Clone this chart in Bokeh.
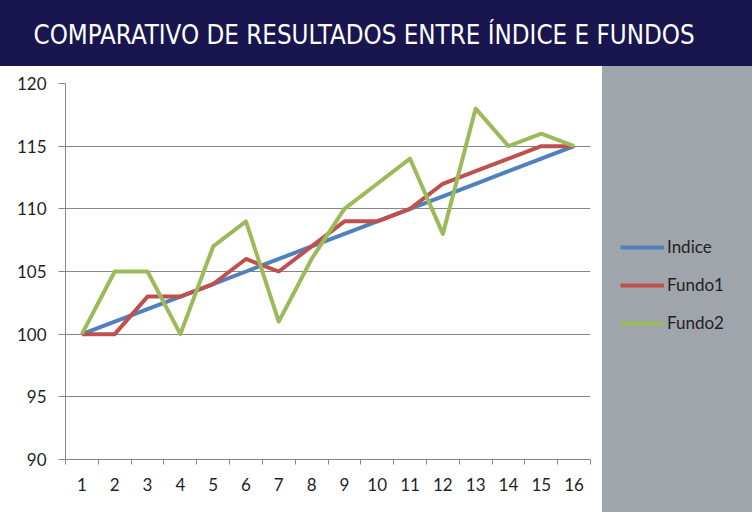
from bokeh.plotting import figure
from bokeh.models import Range1d, FixedTicker, Label, Legend, LegendItem
from bokeh.layouts import column, row
from bokeh.embed import file_html
from bokeh.resources import INLINE

# ---- data ----
periods = list(range(1, 17))
indice = [100, 101, 102, 103, 104, 105, 106, 107, 108, 109, 110, 111, 112, 113, 114, 115]
fundo1 = [100, 100, 103, 103, 104, 106, 105, 107, 109, 109, 110, 112, 113, 114, 115, 115]
fundo2 = [100, 105, 105, 100, 107, 109, 101, 106, 110, 112, 114, 108, 118, 115, 116, 115]
series_names = ["Indice", "Fundo1", "Fundo2"]
y_ticks = [90, 95, 100, 105, 110, 115, 120]
title_text = "COMPARATIVO DE RESULTADOS ENTRE ÍNDICE E FUNDOS"

colors = ["#4F81BD", "#C0504D", "#9BBB59"]
NAVY = "#19154f"
PANEL = "#a0a4ab"
GRID = "#868686"
TEXT = "#1f1f1f"
FONT = "Lato"

# ---- title bar ----
t = figure(width=752, height=66, output_backend="svg", toolbar_location=None,
           x_axis_location=None, y_axis_location=None,
           x_range=Range1d(0, 1), y_range=Range1d(0, 1),
           min_border=0, background_fill_color=NAVY, border_fill_color=NAVY,
           outline_line_color=None)
t.styles = {"background-color": NAVY}
t.grid.visible = False
t.add_layout(Label(x=33, y=32, x_units="screen", y_units="screen", text=title_text,
                   text_color="white",
                   text_font="'DejaVu Sans Condensed', 'Liberation Sans Narrow', Roboto",
                   text_font_size="25.7px", text_baseline="middle", text_align="left"))

# ---- main chart ----
c = figure(width=602, height=446, output_backend="svg", toolbar_location=None,
           x_range=Range1d(0.5, 16.5), y_range=Range1d(90, 120),
           min_border_left=65, min_border_right=12, min_border_top=17, min_border_bottom=53,
           background_fill_color="white", border_fill_color="white",
           outline_line_color=None)
c.xgrid.visible = False
c.ygrid.grid_line_color = GRID
c.ygrid.grid_line_width = 1
c.ygrid.ticker = FixedTicker(ticks=y_ticks)

c.xaxis.ticker = FixedTicker(ticks=periods, minor_ticks=[v - 0.5 for v in periods] + [periods[-1] + 0.5])
c.xaxis.major_tick_out = 0
c.xaxis.major_tick_in = 0
c.xaxis.minor_tick_out = 5
c.xaxis.minor_tick_in = 0
c.xaxis.minor_tick_line_color = GRID
c.xaxis.major_label_standoff = 13

c.yaxis.ticker = FixedTicker(ticks=y_ticks)
c.yaxis.major_tick_out = 7
c.yaxis.major_tick_in = 0
c.yaxis.minor_tick_line_color = None
c.yaxis.major_label_standoff = 12

for ax in (c.xaxis, c.yaxis):
    ax.axis_line_color = GRID
    ax.major_tick_line_color = GRID
    ax.major_label_text_font = FONT
    ax.major_label_text_font_size = "17px"
    ax.major_label_text_color = TEXT

for vals, col in zip([indice, fundo1, fundo2], colors):
    c.line(periods, vals, line_color=col, line_width=4, line_join="round")

# ---- legend panel ----
lg = figure(width=150, height=446, output_backend="svg", toolbar_location=None,
            x_axis_location=None, y_axis_location=None,
            x_range=Range1d(0, 17), y_range=Range1d(0, 200),
            min_border=0, background_fill_color=PANEL, border_fill_color=PANEL,
            outline_line_color=None)
lg.styles = {"background-color": PANEL}
lg.grid.visible = False
items = []
for name, vals, col in zip(series_names, [indice, fundo1, fundo2], colors):
    r = lg.line(periods, vals, line_color=col, line_width=4, visible=False)
    items.append(LegendItem(label=name, renderers=[r]))
legend = Legend(items=items, location=(18, 126), background_fill_alpha=0,
                border_line_color=None, padding=0, margin=0, spacing=17,
                glyph_width=44, glyph_height=20, label_height=20, label_standoff=3,
                label_text_font=FONT, label_text_font_size="17px", label_text_color=TEXT,
                click_policy="none")
lg.add_layout(legend, "center")

layout = column(t, row(c, lg, spacing=0), spacing=0)
open("out.html", "w").write(file_html(layout, INLINE))
